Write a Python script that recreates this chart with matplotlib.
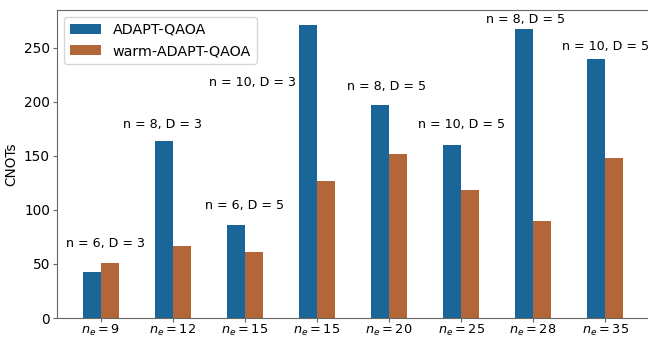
import numpy as np
import matplotlib
matplotlib.use("Agg")
import matplotlib.pyplot as plt

plt.rcParams["font.family"] = ["DejaVu Sans"]
plt.rcParams["mathtext.fontset"] = "dejavusans"

# Number of edges per instance
edges = ["9", "12", "15", "15", "20", "25", "28", "35"]
adapt_qaoa = [43, 164, 86, 271, 197, 160, 267, 240]
warm_adapt_qaoa = [51, 67, 61, 127, 152, 118, 90, 148]
instance_labels = ["n = 6, D = 3", "n = 8, D = 3", "n = 6, D = 5", "n = 10, D = 3",
                   "n = 8, D = 5", "n = 10, D = 5", "n = 8, D = 5", "n = 10, D = 5"]

# annotation placement (x shift from group centre, y in CNOT units)
label_dx = [0.07, -0.15, 0.0, -0.9, -0.04, 0.0, -0.1, 0.0]
label_y = [69, 179, 104, 218, 214, 179, 276, 251]

blue = "#1b6699"
orange = "#b36637"

fig = plt.figure(figsize=(6.48, 3.39), dpi=100)
ax = fig.add_axes([57 / 648, 21 / 339, 600 / 648, 308 / 339])

x = np.arange(len(edges))
w = 0.25
ax.bar(x - w / 2, adapt_qaoa, w, color=blue, label="ADAPT-QAOA")
ax.bar(x + w / 2, warm_adapt_qaoa, w, color=orange, label="warm-ADAPT-QAOA")

for xi, dx, yy, txt in zip(x, label_dx, label_y, instance_labels):
    ax.text(xi + dx, yy, txt, ha="center", va="center", fontsize=9.1)

ax.set_xticks(x)
ax.set_xticklabels([rf"$n_e = {e}$" for e in edges], fontsize=9.3)
ax.set_yticks([0, 50, 100, 150, 200, 250])
ax.tick_params(axis="y", labelsize=9.8, length=3, pad=2)
ax.tick_params(axis="x", length=3, pad=0.5)
ax.set_ylabel("CNOTs", fontsize=9.8, labelpad=4)
ax.set_xlim(-0.61, 7.72)
ax.set_ylim(0, 285)

for s in ax.spines.values():
    s.set_color("#666666")
ax.tick_params(colors="#666666", labelcolor="black")

ax.legend(loc="upper left", fontsize=10.3, handlelength=2.2, borderaxespad=0.5)

fig.savefig("out.png", dpi=100)
